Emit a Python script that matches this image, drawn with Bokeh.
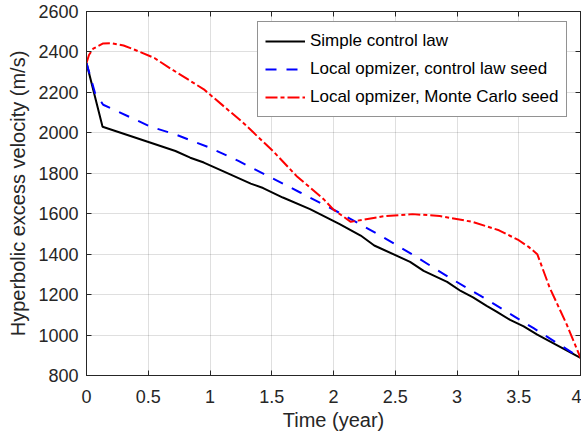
from bokeh.plotting import figure
from bokeh.models import Range1d, LinearAxis, FixedTicker, Legend, LegendItem, CustomJSTickFormatter
from bokeh.embed import file_html
from bokeh.resources import INLINE

# ---- data ----
t_simple = [0, 0.13, 0.52, 0.72, 0.84, 0.95, 1.10, 1.33, 1.43, 1.59, 1.81, 2.05, 2.22, 2.33,
            2.62, 2.73, 2.92, 3.03, 3.13, 3.24, 3.32, 3.43, 3.54, 3.65, 4.0]
v_simple = [2345, 2030, 1951, 1910, 1877, 1853, 1812, 1749, 1727, 1680, 1623, 1549, 1492, 1443,
            1362, 1317, 1263, 1218, 1186, 1144, 1116, 1075, 1043, 1002, 887]

t_local_cl = [0, 0.07, 0.135, 0.52, 0.72, 1.0, 1.23, 1.51, 1.73, 2.05, 2.38, 2.65, 2.95, 3.27, 3.62, 4.0]
v_local_cl = [2345, 2195, 2139, 2030, 1992, 1926, 1861, 1774, 1705, 1604, 1492, 1394, 1280, 1165, 1034, 887]

t_local_mc = [0, 0.02, 0.054, 0.135, 0.2, 0.3, 0.39, 0.55, 0.68, 0.95, 1.27, 1.51, 1.70, 1.92, 2.0,
              2.14, 2.41, 2.64, 2.86, 3.13, 3.34, 3.50, 3.58, 3.65, 3.75, 3.89, 4.0]
v_local_mc = [2345, 2385, 2416, 2442, 2443, 2432, 2411, 2370, 2318, 2215, 2049, 1910, 1787, 1672, 1620,
              1560, 1588, 1598, 1589, 1559, 1518, 1469, 1436, 1400, 1235, 1050, 887]

x_ticks = [0, 0.5, 1, 1.5, 2, 2.5, 3, 3.5, 4]
x_tick_labels = ["0", "0.5", "1", "1.5", "2", "2.5", "3", "3.5", "4"]
y_ticks = [800, 1000, 1200, 1400, 1600, 1800, 2000, 2200, 2400, 2600]

series_names = ["Simple control law",
                "Local opmizer, control law seed",
                "Local opmizer, Monte Carlo seed"]

FONT = "Liberation Sans"
DARK = "#262626"

p = figure(width=581, height=438, output_backend="svg", toolbar_location=None,
           x_range=Range1d(0, 4), y_range=Range1d(800, 2600),
           min_border_left=86, min_border_right=1, min_border_top=11, min_border_bottom=63,
           x_axis_label="Time (year)", y_axis_label="Hyperbolic excess velocity (m/s)")

p.outline_line_color = DARK
p.outline_line_width = 1
p.background_fill_color = "white"
p.border_fill_color = "white"

p.xaxis.ticker = FixedTicker(ticks=x_ticks)
p.xaxis.major_label_overrides = {float(t): s for t, s in zip(x_ticks, x_tick_labels)}
p.yaxis.ticker = FixedTicker(ticks=y_ticks)

for ax in (p.xaxis[0], p.yaxis[0]):
    ax.axis_line_color = DARK
    ax.major_tick_line_color = DARK
    ax.major_tick_in = 5
    ax.major_tick_out = 0
    ax.minor_tick_line_color = None
    ax.major_label_text_font = FONT
    ax.major_label_text_font_size = "18px"
    ax.major_label_text_color = DARK
    ax.axis_label_text_font = FONT
    ax.axis_label_text_font_size = "20px"
    ax.axis_label_text_font_style = "normal"
    ax.axis_label_text_color = DARK

p.xaxis.major_label_standoff = 14
p.xaxis.axis_label_standoff = 3
p.yaxis.major_label_standoff = 8
p.yaxis.axis_label_standoff = 6

# box ticks on top and right
empty = CustomJSTickFormatter(code="return ''")
right_ax = LinearAxis(ticker=FixedTicker(ticks=y_ticks), formatter=empty,
                      major_tick_in=5, major_tick_out=0, minor_tick_line_color=None,
                      axis_line_color=DARK, major_tick_line_color=DARK,
                      major_label_standoff=0, major_label_text_font_size="1px")
top_ax = LinearAxis(ticker=FixedTicker(ticks=x_ticks), formatter=empty,
                    major_tick_in=5, major_tick_out=0, minor_tick_line_color=None,
                    axis_line_color=DARK, major_tick_line_color=DARK,
                    major_label_standoff=0, major_label_text_font_size="1px")
p.add_layout(right_ax, "right")
p.add_layout(top_ax, "above")

p.grid.grid_line_color = DARK
p.grid.grid_line_alpha = 0.15
p.grid.grid_line_width = 1

r1 = p.line(t_simple, v_simple, line_color="black", line_width=2)
r2 = p.line(t_local_cl, v_local_cl, line_color="blue", line_width=2, line_dash="11 10")
r3 = p.line(t_local_mc, v_local_mc, line_color="red", line_width=2, line_dash="12 3 4 3")

legend = Legend(items=[LegendItem(label=series_names[0], renderers=[r1]),
                       LegendItem(label=series_names[1], renderers=[r2]),
                       LegendItem(label=series_names[2], renderers=[r3])],
                location=(171, 258), margin=0, padding=7, spacing=4,
                glyph_width=40, glyph_height=24, label_height=24, label_standoff=5,
                label_text_font=FONT, label_text_font_size="17px", label_text_color="black",
                border_line_color=DARK, border_line_width=1, background_fill_color="white",
                background_fill_alpha=1)
p.add_layout(legend, "center")

open("out.html", "w").write(file_html(p, INLINE))
